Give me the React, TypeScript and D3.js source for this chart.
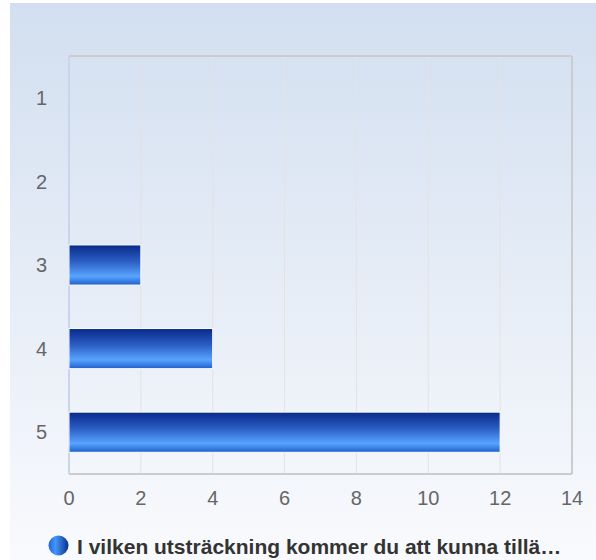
import React from "react";
import * as d3 from "d3";

const width = 596;
const height = 560;
const margin = { top: 56, right: 24, bottom: 86, left: 69 };

const categories = ["1", "2", "3", "4", "5"];
const values = [0, 0, 2, 4, 12];
const xTicks = [0, 2, 4, 6, 8, 10, 12, 14];
const seriesName = "I vilken utsträckning kommer du att kunna tillä…";

const font = "'Liberation Sans', Arial, sans-serif";

export default function App() {
  const x = d3.scaleLinear().domain([0, 14]).range([margin.left, width - margin.right]);
  const y = d3
    .scaleBand<string>()
    .domain(categories)
    .range([margin.top, height - margin.bottom])
    .paddingInner(0.52)
    .paddingOuter(0.26);

  const plotTop = margin.top;
  const plotBottom = height - margin.bottom;
  const plotLeft = margin.left;
  const plotRight = width - margin.right;

  return (
    <svg
      width={width}
      height={height}
      style={{ position: "absolute", left: 0, top: 0, fontFamily: font }}
    >
      <defs>
        <linearGradient id="bg" x1="0" y1="0" x2="0" y2="1">
          <stop offset="0%" stopColor="#d2dff0" />
          <stop offset="100%" stopColor="#f9fafd" />
        </linearGradient>
        <linearGradient id="bar" x1="0" y1="0" x2="0" y2="1">
          <stop offset="0%" stopColor="#082a8a" />
          <stop offset="40%" stopColor="#2a5cc2" />
          <stop offset="78%" stopColor="#58a4ff" />
          <stop offset="100%" stopColor="#1e5fcc" />
        </linearGradient>
        <linearGradient id="dot" x1="0" y1="0" x2="1" y2="0">
          <stop offset="0%" stopColor="#2466d8" />
          <stop offset="35%" stopColor="#4596f7" />
          <stop offset="100%" stopColor="#0a2f92" />
        </linearGradient>
      </defs>

      <rect x={10} y={3} width={width - 10} height={height - 3} fill="url(#bg)" />

      {/* grid */}
      {xTicks.slice(1, -1).map(t => (
        <line key={t} x1={x(t)} x2={x(t)} y1={plotTop} y2={plotBottom} stroke="#e3e3e3" strokeWidth={1} />
      ))}

      {/* frame */}
      <line x1={plotLeft} x2={plotRight} y1={plotTop} y2={plotTop} stroke="#cccccc" strokeWidth={2} />
      <line x1={plotRight} x2={plotRight} y1={plotTop} y2={plotBottom} stroke="#cccccc" strokeWidth={2} />
      <line x1={plotLeft} x2={plotRight} y1={plotBottom} y2={plotBottom} stroke="#cccccc" strokeWidth={2} />
      <line x1={plotLeft} x2={plotLeft} y1={plotTop} y2={plotBottom} stroke="#c8d5eb" strokeWidth={2} />

      {/* bars */}
      {categories.map((c, i) =>
        values[i] > 0 ? (
          <rect
            key={c}
            x={x(0)}
            y={y(c)}
            width={x(values[i]) - x(0)}
            height={y.bandwidth()}
            fill="url(#bar)"
            stroke="#ffffff"
            strokeWidth={1}
          />
        ) : null
      )}

      {/* y labels */}
      {categories.map(c => (
        <text
          key={c}
          x={plotLeft - 22}
          y={(y(c) ?? 0) + y.bandwidth() / 2}
          dy="0.36em"
          textAnchor="end"
          fontSize={20}
          fill="#666666"
        >
          {c}
        </text>
      ))}

      {/* x labels */}
      {xTicks.map(t => (
        <text key={t} x={x(t)} y={505} textAnchor="middle" fontSize={20} fill="#666666">
          {t}
        </text>
      ))}

      {/* legend */}
      <circle cx={58.5} cy={545.5} r={10} fill="url(#dot)" />
      <text x={77} y={553.5} fontSize={21} fontWeight="bold" fill="#333333">
        {seriesName}
      </text>
    </svg>
  );
}
